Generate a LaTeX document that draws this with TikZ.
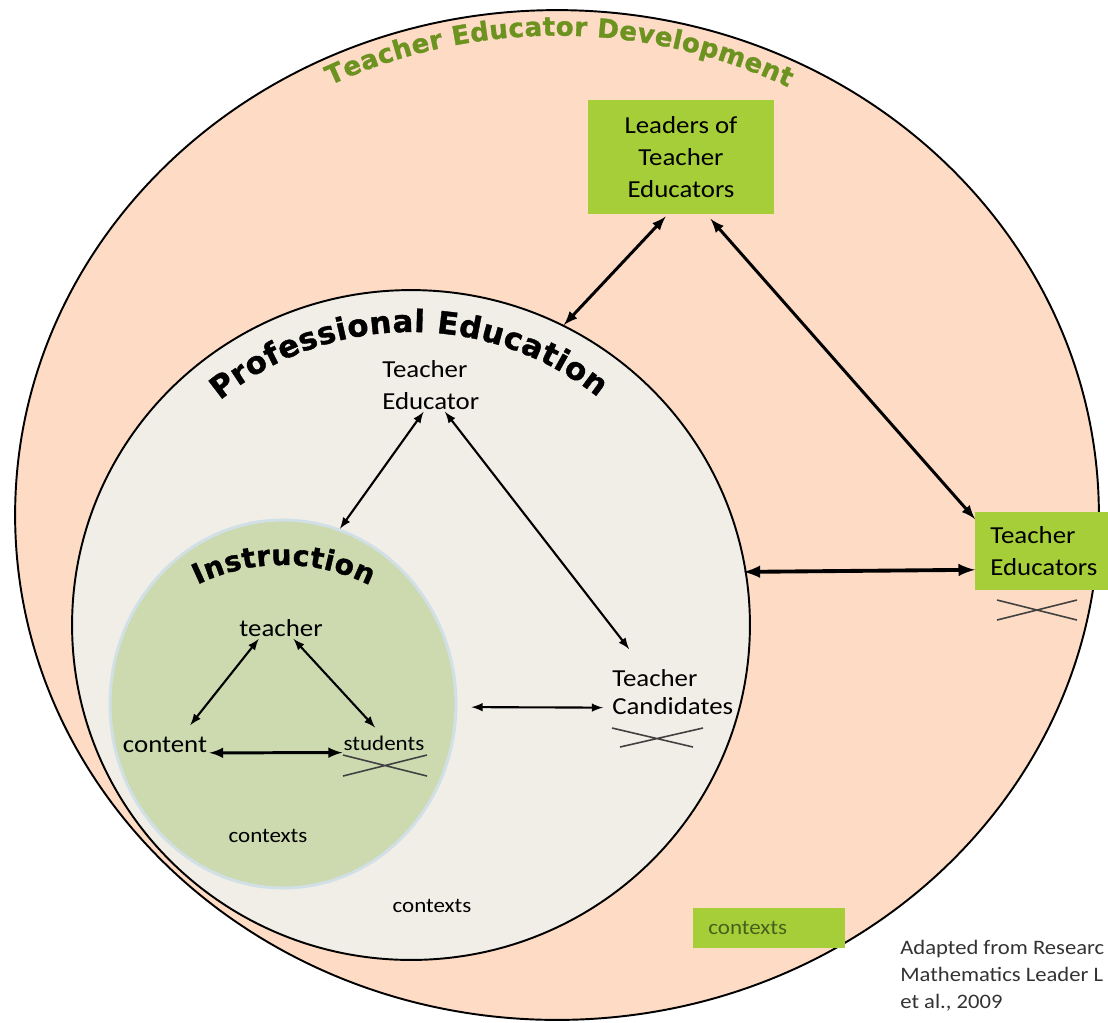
\documentclass[tikz,border=0pt]{standalone}
\usepackage{fontspec}
\setmainfont{Carlito}[FakeStretch=1.1]
\newfontfamily\heavy{DejaVu Sans}[BoldFeatures={FakeBold=1.2}]
\usetikzlibrary{shapes.geometric,decorations.text}
\definecolor{peach}{RGB}{253,219,197}
\definecolor{shell}{RGB}{241,238,231}
\definecolor{sage}{RGB}{205,218,176}
\definecolor{haze}{RGB}{208,224,230}
\definecolor{lime}{RGB}{166,206,57}
\definecolor{olive}{RGB}{108,146,32}
\definecolor{moss}{RGB}{72,96,28}
\def\s{0.02}
\def\punkt#1#2{({(#1)*\s},{-(#2)*\s})}
\def\fbig{\fontsize{13.9}{18.1}\selectfont}
\def\fsmall{\fontsize{11.9}{14}\selectfont}
\def\fnote{\fontsize{11.7}{15.3}\selectfont}
\def\tedfont{\color{olive}\heavy\bfseries\fontsize{14.8}{17}\selectfont}
\def\pefont{\heavy\bfseries\fontsize{17.5}{19}\selectfont}
\def\insfont{\heavy\bfseries\fontsize{16}{18}\selectfont}

\begin{document}
\begin{tikzpicture}[>=latex,
  ring/.style={ellipse,draw,inner sep=0,line width=1.1pt},
  box/.style={fill=lime,font=\fbig,inner sep=0},
  lbl/.style={font=\fbig,inner sep=1.1pt},
  arr/.style={<->,line width=1.2pt},
  cross/.style={draw=black!75,line width=0.9pt}]
\useasboundingbox \punkt{0}{0} rectangle \punkt{1108}{1022};
\node[ring,fill=peach,minimum width=21.68cm,minimum height=20.2cm] (ted) at \punkt{557}{515} {};
\node[ring,fill=shell,minimum width=13.56cm,minimum height=13.4cm] (pe) at \punkt{411}{625} {};
\node[ring,draw=haze,line width=1.7pt,fill=sage,minimum width=6.92cm,minimum height=7.36cm] (ins) at \punkt{283}{704} {};

\path[decorate,decoration={text along path,text align=fit to path,
  text={|\tedfont|Teacher Educator Development}}]
  \punkt{330.3}{85.3} arc[start angle=116.3,end angle=63.2,x radius=10.24cm,y radius=9.6cm];
\path[decorate,decoration={text along path,text align=fit to path,
  text={|\pefont|Professional Education}}]
  \punkt{220.1}{400.5} arc[start angle=130,end angle=51,x radius=5.94cm,y radius=5.86cm];
\path[decorate,decoration={text along path,text align=fit to path,
  text={|\insfont|Instruction}}]
  \punkt{197.5}{584.7} arc[start angle=116,end angle=63.5,radius=3.9cm];

\node[box,minimum width=3.74cm,minimum height=2.28cm,align=center] (lead) at \punkt{681}{157} {Leaders of\\Teacher\\Educators};
\node[box,anchor=west,text width=2.4cm,inner xsep=0.3cm,minimum height=1.56cm,align=left] (te) at \punkt{975}{551} {Teacher\\Educators};
\node[box,anchor=west,text width=2.44cm,inner xsep=0.3cm,minimum height=0.8cm,align=left,font=\fsmall,text=moss] (ctx3) at \punkt{693}{928} {contexts};

\node[lbl,anchor=west,align=left] (tedu) at \punkt{380}{385} {Teacher\\Educator};
\node[lbl,anchor=west,align=left] (tc) at \punkt{610}{692} {Teacher\\[-0.08cm]Candidates};
\node[lbl] (teach) at \punkt{281}{628} {teacher};
\node[lbl] (cont) at \punkt{165}{745} {content};
\node[lbl,font=\fsmall] (stud) at \punkt{384}{743} {students};
\node[lbl,font=\fsmall] (ctx1) at \punkt{268}{836} {contexts};
\node[lbl,font=\fsmall] (ctx2) at \punkt{432}{906} {contexts};
\node[anchor=north west,align=left,font=\fnote,inner sep=0,text=black!80] (note) at \punkt{900}{940} {Adapted from Researc\\Mathematics Leader L\\et al., 2009};

\draw[arr,line width=1.7pt,shorten <=0.06cm] (lead.-103) -- (pe.63);
\draw[arr,line width=1.7pt,shorten <=0.12cm] (lead.-66) -- (te.157);
\draw[arr] (tedu.-105) -- (ins.72);
\draw[arr,shorten >=0.46cm] (tedu.-62) -- (tc.140);
\draw[arr,line width=2.2pt,shorten <=-0.06cm] (pe.9) -- (te.194);
\draw[arr,shorten <=0.28cm,shorten >=0.14cm] (ins.-1) -- (tc.194);
\draw[arr,shorten >=0.25cm] (teach.206) -- (cont.30);
\draw[arr,shorten >=0.16cm] (teach.-41) -- (stud.110);
\draw[arr,line width=1.7pt] (cont.-10) -- (stud.193);

\draw[cross] \punkt{343}{755} -- \punkt{427}{776} \punkt{343}{776} -- \punkt{427}{755};
\draw[cross] \punkt{612}{728} -- \punkt{693}{747} \punkt{620}{747} -- \punkt{703}{728};
\draw[cross] \punkt{997}{600} -- \punkt{1077}{620} \punkt{997}{620} -- \punkt{1077}{600};
\end{tikzpicture}
\end{document}
